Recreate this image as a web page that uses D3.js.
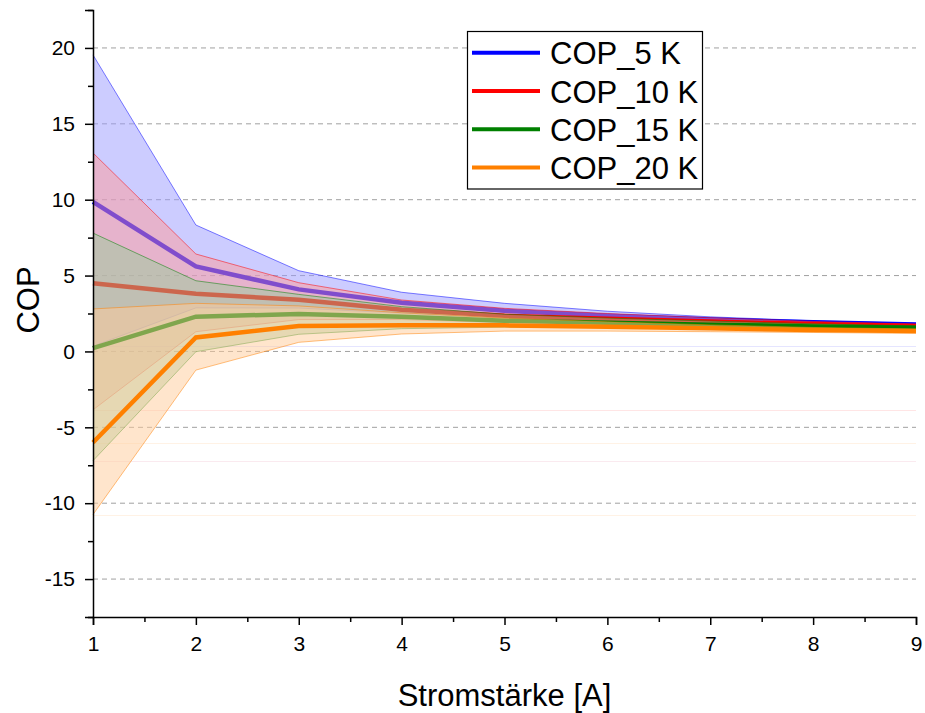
<!DOCTYPE html>
<html>
<head>
<meta charset="utf-8">
<script src="https://cdn.jsdelivr.net/npm/d3@7"></script>
<style>
  html, body { margin: 0; padding: 0; background: #fff; }
  svg { display: block; font-family: Arial, "Liberation Sans", sans-serif; }
</style>
</head>
<body>
<svg id="chart" width="925" height="713"></svg>
<script>
// Stromstärke [A]
const current = [1, 2, 3, 4, 5, 6, 7, 8, 9];

// COP mean values and band limits for each temperature lift
const cop5      = [9.85, 5.6, 4.09, 3.21, 2.68, 2.36, 2.1, 1.92, 1.78];
const cop5Upper = [19.54, 8.33, 5.32, 3.9, 3.17, 2.65, 2.28, 2.02, 1.85];
const cop5Lower = [0.35, 2.87, 2.86, 2.52, 2.19, 2.07, 1.92, 1.82, 1.71];

const cop10      = [4.5, 3.8, 3.4, 2.75, 2.35, 2.15, 1.97, 1.8, 1.68];
const cop10Upper = [13.08, 6.42, 4.53, 3.39, 2.84, 2.5, 2.22, 1.98, 1.8];
const cop10Lower = [-3.85, 1.3, 2.1, 2.1, 1.9, 1.8, 1.7, 1.62, 1.56];

const cop15      = [0.22, 2.29, 2.47, 2.29, 2.02, 1.89, 1.76, 1.65, 1.56];
const cop15Upper = [7.8, 4.66, 3.76, 2.95, 2.45, 2.2, 2.0, 1.82, 1.68];
const cop15Lower = [-7.2, -0.02, 1.13, 1.5, 1.6, 1.58, 1.52, 1.48, 1.44];

const cop20      = [-6.0, 0.92, 1.67, 1.72, 1.72, 1.63, 1.52, 1.42, 1.34];
const cop20Upper = [2.8, 3.17, 3.0, 2.55, 2.2, 1.95, 1.75, 1.58, 1.48];
const cop20Lower = [-10.75, -1.23, 0.6, 1.15, 1.34, 1.34, 1.3, 1.25, 1.19];

const seriesNames  = ["COP_5 K", "COP_10 K", "COP_15 K", "COP_20 K"];
const seriesColors = ["#0000ff", "#ff0000", "#008000", "#ff8000"];

// faint horizontal rules left behind by the band fills
const fillRuleValues = [0.35, -3.85, -6.05, -7.2, -10.75];
const fillRuleColors = ["#0000ff", "#ff0000", "#ff8000", "#cc3366", "#ff8000"];

// axis ticks
const yMajorTicks = [-15, -10, -5, 0, 5, 10, 15, 20];
const yMinorTicks = [-17.5, -12.5, -7.5, -2.5, 2.5, 7.5, 12.5, 17.5, 22.5];
const xMajorTicks = [1, 2, 3, 4, 5, 6, 7, 8, 9];
const xMinorTicks = [1.5, 2.5, 3.5, 4.5, 5.5, 6.5, 7.5, 8.5];

const series = [
  { name: seriesNames[0], color: seriesColors[0], mean: cop5,  upper: cop5Upper,  lower: cop5Lower },
  { name: seriesNames[1], color: seriesColors[1], mean: cop10, upper: cop10Upper, lower: cop10Lower },
  { name: seriesNames[2], color: seriesColors[2], mean: cop15, upper: cop15Upper, lower: cop15Lower },
  { name: seriesNames[3], color: seriesColors[3], mean: cop20, upper: cop20Upper, lower: cop20Lower }
];

const svg = d3.select("#chart");
const plot = { left: 93, right: 916, top: 10, bottom: 617 };

const x = d3.scaleLinear().domain([1, 9]).range([plot.left, plot.right]);
const y = d3.scaleLinear().domain([-17.5, 22.5]).range([plot.bottom, plot.top]);

// tick labels use a plain hyphen for negatives
const plainFormat = d => String(d);

// dashed horizontal grid
svg.append("g").selectAll("line")
  .data(yMajorTicks)
  .join("line")
  .attr("x1", plot.left).attr("x2", plot.right)
  .attr("y1", d => y(d)).attr("y2", d => y(d))
  .attr("stroke", "#a0a0a0")
  .attr("stroke-width", 1)
  .attr("stroke-dasharray", "5,4");

// faint fill rules
svg.append("g").selectAll("line")
  .data(fillRuleValues)
  .join("line")
  .attr("x1", plot.left).attr("x2", plot.right)
  .attr("y1", d => Math.round(y(d)) + 0.5).attr("y2", d => Math.round(y(d)) + 0.5)
  .attr("stroke", (d, i) => fillRuleColors[i])
  .attr("stroke-opacity", 0.1)
  .attr("stroke-width", 1);

const area = d3.area()
  .x(d => x(d.x))
  .y0(d => y(d.lo))
  .y1(d => y(d.hi));
const line = d3.line()
  .x(d => x(d.x))
  .y(d => y(d.v));

const layers = svg.append("g");
series.forEach(s => {
  const pts = current.map((c, i) => ({ x: c, v: s.mean[i], hi: s.upper[i], lo: s.lower[i] }));
  const tint = d3.interpolateRgb(s.color, "#ffffff")(0.6);
  const g = layers.append("g");
  g.append("path")
    .datum(pts)
    .attr("d", area)
    .attr("fill", tint)
    .attr("fill-opacity", 0.5)
    .attr("stroke", "none");
  g.append("path")
    .datum(pts.map(p => ({ x: p.x, v: p.hi })))
    .attr("d", line)
    .attr("fill", "none")
    .attr("stroke", s.color)
    .attr("stroke-opacity", 0.5)
    .attr("stroke-width", 1);
  g.append("path")
    .datum(pts.map(p => ({ x: p.x, v: p.lo })))
    .attr("d", line)
    .attr("fill", "none")
    .attr("stroke", s.color)
    .attr("stroke-opacity", 0.5)
    .attr("stroke-width", 1);
  g.append("path")
    .datum(pts)
    .attr("d", line)
    .attr("fill", "none")
    .attr("stroke", s.color)
    .attr("stroke-width", 4.5)
    .attr("stroke-linejoin", "miter");
});

// axes
const tickFont = 21;
svg.append("g")
  .attr("transform", `translate(${plot.left},0)`)
  .call(d3.axisLeft(y).tickValues(yMajorTicks).tickSize(8).tickPadding(10).tickFormat(plainFormat));
svg.append("g")
  .attr("transform", `translate(${plot.left},0)`)
  .call(d3.axisLeft(y).tickValues(yMinorTicks).tickSize(5).tickFormat(""))
  .call(g => g.select(".domain").remove());

svg.append("g")
  .attr("transform", `translate(0,${plot.bottom})`)
  .call(d3.axisBottom(x).tickValues(xMajorTicks).tickSize(8).tickPadding(11).tickFormat(plainFormat));
svg.append("g")
  .attr("transform", `translate(0,${plot.bottom})`)
  .call(d3.axisBottom(x).tickValues(xMinorTicks).tickSize(5).tickFormat(""))
  .call(g => g.select(".domain").remove());

svg.selectAll(".domain").attr("stroke", "#000").attr("stroke-width", 1.5);
svg.selectAll(".tick line").attr("stroke", "#000").attr("stroke-width", 1.5);
svg.selectAll(".tick text")
  .attr("font-family", "Arial, 'Liberation Sans', sans-serif")
  .attr("font-size", tickFont)
  .attr("fill", "#000");

// axis titles
svg.append("text")
  .attr("x", (plot.left + plot.right) / 2)
  .attr("y", 706)
  .attr("text-anchor", "middle")
  .attr("font-size", 31)
  .text("Stromstärke [A]");

svg.append("text")
  .attr("transform", `translate(39,300) rotate(-90)`)
  .attr("text-anchor", "middle")
  .attr("font-size", 31)
  .text("COP");

// legend
const legend = svg.append("g");
legend.append("rect")
  .attr("x", 467.5).attr("y", 31.5)
  .attr("width", 235).attr("height", 157.5)
  .attr("fill", "#fff")
  .attr("stroke", "#000")
  .attr("stroke-width", 1.2);
const legendRows = legend.selectAll("g.row")
  .data(series)
  .join("g")
  .attr("class", "row")
  .attr("transform", (d, i) => `translate(0,${52.7 + i * 38.3})`);
legendRows.append("line")
  .attr("x1", 472).attr("x2", 540)
  .attr("y1", 0).attr("y2", 0)
  .attr("stroke", d => d.color)
  .attr("stroke-width", 4);
legendRows.append("text")
  .attr("x", 550)
  .attr("y", 11.5)
  .attr("font-size", 31)
  .attr("fill", "#000")
  .text(d => d.name);
</script>
</body>
</html>
